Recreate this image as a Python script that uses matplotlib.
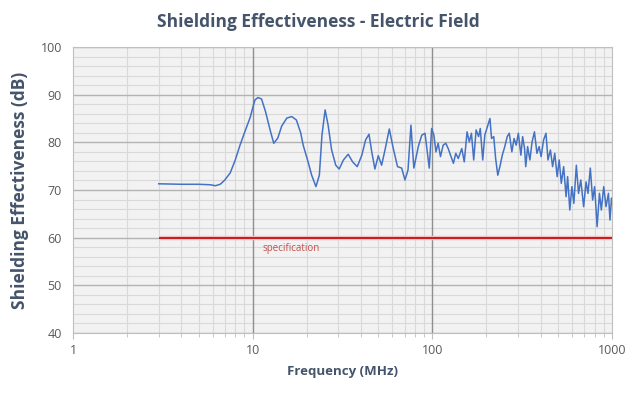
import numpy as np
import matplotlib
matplotlib.use("Agg")
import matplotlib.pyplot as plt
from matplotlib.ticker import LogLocator, MultipleLocator, FixedLocator, NullFormatter

plt.rcParams['font.family'] = ['Open Sans', 'DejaVu Sans']

freq_mhz = [3.0, 4.0, 5.0, 5.8, 6.2, 6.6, 7.0, 7.5, 8.0, 8.5, 9.0, 9.7,
            10.0, 10.3, 10.7, 11.2, 11.8, 12.5, 13.1, 13.8, 14.5, 15.5,
            16.5, 17.5, 18.5, 19.1, 20.2, 21.3, 22.5, 23.5, 24.3, 25.3,
            26.3, 27.5, 29.0, 30.3, 32.0, 34.0, 36.0, 38.2, 40.5, 42.5,
            44.4, 46.0, 47.9, 50.0, 52.2, 54.5, 57.6, 60.6, 64.0, 67.5,
            70.4, 73.2, 76.0, 78.9, 83.5, 87.3, 91.0, 96.1, 99.1, 102.0,
            104.7, 107.7, 111.0, 114.8, 118.8, 122.5, 126.3, 131.0, 135.0,
            139.4, 145.8, 150.5, 156.0, 160.6, 165.0, 169.9, 175.2, 180.9,
            184.8, 190.7, 195.8, 201.0, 209.2, 213.5, 219.6, 225.0, 231.3,
            238.6, 245.0, 253.0, 261.0, 268.0, 277.0, 285.0, 292.9, 301.0,
            311.0, 318.0, 326.0, 331.0, 339.0, 349.0, 359.0, 370.0, 382.0,
            393.0, 403.0, 416.0, 429.0, 440.0, 454.0, 467.0, 480.0, 495.0,
            508.0, 522.0, 538.0, 555.0, 566.0, 582.0, 598.0, 613.0, 633.0,
            651.0, 670.0, 695.0, 717.0, 735.0, 757.0, 780.0, 800.0, 826.0,
            851.0, 872.0, 899.0, 926.0, 955.0, 974.0, 994.0, 1000.0]
se_db = [71.3, 71.2, 71.2, 71.1, 70.9, 71.2, 72.1, 73.6, 76.3, 79.4, 82.0, 85.3,
         87.2, 88.9, 89.4, 89.1, 86.4, 82.6, 79.8, 80.9, 83.4, 85.1,
         85.4, 84.7, 82.0, 79.4, 76.3, 73.1, 70.7, 73.1, 81.5, 86.8,
         83.6, 78.4, 75.2, 74.4, 76.3, 77.5, 75.9, 74.9, 77.3, 80.5,
         81.7, 78.0, 74.4, 77.2, 75.2, 78.4, 82.8, 78.7, 74.9, 74.6,
         72.1, 74.2, 83.6, 74.6, 79.1, 81.5, 81.9, 74.6, 82.9, 81.5,
         78.0, 79.8, 77.0, 79.4, 79.8, 78.7, 77.3, 75.6, 77.7,
         76.6, 78.7, 75.9, 82.2, 80.1, 81.9, 76.3, 82.6, 81.2,
         82.9, 76.3, 81.5, 82.9, 85.0, 80.8, 81.2, 76.6, 73.1,
         75.2, 77.3, 79.1, 81.2, 81.9, 78.0, 80.8, 79.4, 81.9,
         77.3, 81.2, 78.7, 74.9, 79.1, 76.3, 80.1, 82.2, 77.7,
         79.1, 77.0, 80.5, 81.9, 76.3, 78.4, 74.9, 77.7, 72.8,
         76.3, 71.4, 74.9, 68.6, 72.8, 65.8, 70.7, 67.2, 75.2,
         69.3, 72.1, 66.5, 71.7, 69.3, 74.6, 67.9, 70.7, 62.3,
         69.3, 65.8, 70.7, 66.5, 69.3, 63.7, 68.3, 67.0]

spec_freq = [3, 1000]
spec_db = [60, 60]

title_color = '#44546a'
tick_color = '#595959'

fig = plt.figure(figsize=(6.37, 3.93), dpi=100)
ax = fig.add_axes([0.1146, 0.1527, 0.8462, 0.7277])
ax.set_facecolor('#f2f2f2')

ax.set_xscale('log')
ax.set_xlim(1, 1000)
ax.set_ylim(40, 100)

ax.xaxis.set_major_locator(FixedLocator([1, 10, 100, 1000]))
ax.xaxis.set_minor_locator(LogLocator(base=10, subs=np.arange(2, 10)))
ax.xaxis.set_minor_formatter(NullFormatter())
ax.set_xticklabels(['1', '10', '100', '1000'])
ax.yaxis.set_major_locator(MultipleLocator(10))
ax.yaxis.set_minor_locator(MultipleLocator(2))

ax.grid(True, which='minor', color='#d9d9d9', linewidth=0.8)
ax.grid(True, which='major', axis='y', color='#b3b3b3', linewidth=1.0)
ax.set_axisbelow(True)
# decade lines on top of the minor grid
for f in [10, 100]:
    ax.axvline(f, color='#8f8f8f', linewidth=1.0, zorder=0.8)

for s in ax.spines.values():
    s.set_color('#bfbfbf')
    s.set_linewidth(0.8)

ax.tick_params(axis='both', which='both', colors='#bfbfbf', labelcolor=tick_color,
               labelsize=9)
ax.tick_params(axis='y', which='both', length=0, pad=8)
ax.tick_params(axis='x', which='major', length=4, pad=4)
ax.tick_params(axis='x', which='minor', length=3)

# spec line with a soft halo
ax.plot(spec_freq, spec_db, color='#f4c0c0', linewidth=3.2, solid_capstyle='butt')
ax.plot(spec_freq, spec_db, color='#c00000', linewidth=1.2, solid_capstyle='butt')
ax.text(11.4, 57.8, 'specification', color='#c0504d', fontsize=7, va='center')

ax.plot(freq_mhz, se_db, color='#4472c4', linewidth=1.1)

fig.text(0.5, 0.945, 'Shielding Effectiveness - Electric Field', ha='center', va='center',
         fontsize=12.5, fontweight='bold', color=title_color)
ax.set_ylabel('Shielding Effectiveness (dB)', fontsize=12.5, fontweight='bold',
              color=title_color, labelpad=8)
ax.set_xlabel('Frequency (MHz)', fontsize=9.5, fontweight='bold', color=title_color,
              labelpad=6)

fig.savefig('out.png', dpi=100)
